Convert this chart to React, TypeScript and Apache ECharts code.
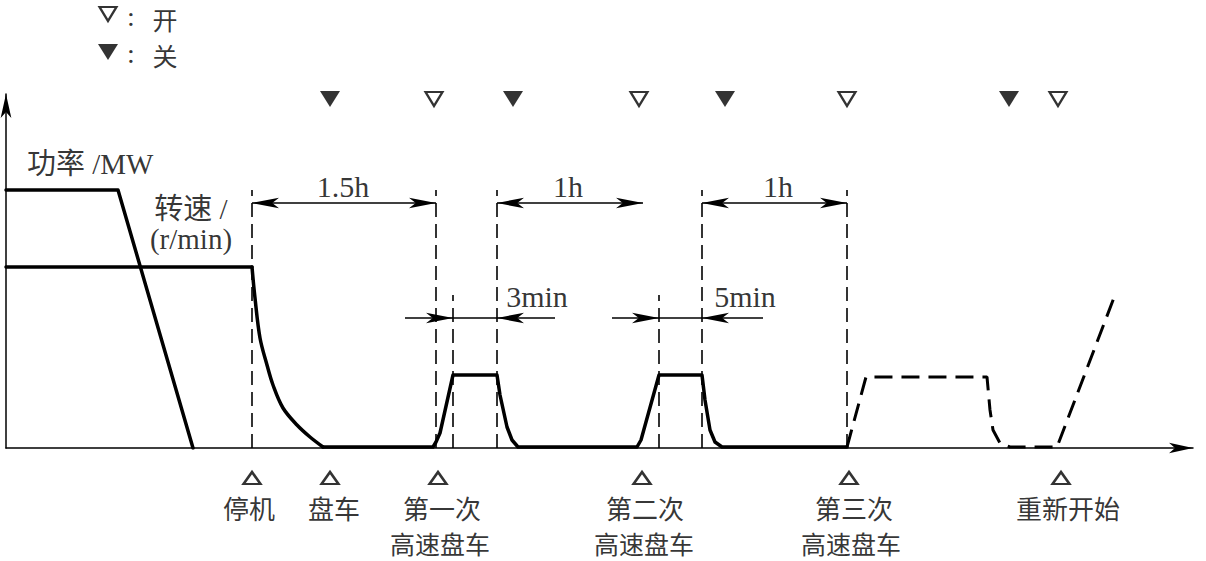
import React, { useEffect, useRef } from "react";
import * as echarts from "echarts";

// Data coordinates: x = time (arbitrary units), y = level (arbitrary units)
const powerCurve = [[0, 258], [112, 258], [187, 0]];
const speedHold = [[0, 181], [246, 181]];
const speedDecay = [
  [246, 181], [249, 150], [254, 110], [261, 83], [267, 63], [277, 40], [291, 23], [304, 11], [317, 1],
];
const speedTurning = [
  [317, 1], [427, 1], [430, 6], [434, 15], [447, 73], [491, 73], [494, 53], [501, 21], [506, 8], [512, 1],
  [631, 1], [635, 8], [653, 73], [696, 73], [699, 48], [704, 18], [709, 6], [716, 1], [841, 1],
];
const restartCurve = [
  [841, 1], [860, 71], [981, 71], [984, 38], [987, 18], [994, 5], [1004, 1], [1051, 1], [1109, 153],
];

const guideX = [246, 430, 447, 491, 653, 696, 841];
const guideTop = [258, 258, 153, 258, 153, 258, 258];

const spanStart = [246, 491, 696];
const spanEnd = [430, 637, 841];
const spanLevel = 245;
const spanLabels = ["1.5h", "1h", "1h"];
const spanLabelX = [337, 562, 772];
const spanLabelY = 262;

const shortFrom = [447, 653];
const shortTo = [491, 696];
const shortOuterLeft = [399, 606];
const shortOuterRight = [549, 757];
const shortLevel = 130;
const shortLabels = ["3min", "5min"];
const shortLabelX = [531, 739];
const shortLabelY = 152;

const closeX = [324, 507, 719, 1003];
const openX = [428, 633, 841, 1052];
const valveY = 349;

const eventX = [246, 324, 432, 636, 843, 1055];
const eventY = -30;
const eventLine1 = ["停机", "盘车", "第一次", "第二次", "第三次", "重新开始"];
const eventLine1X = [243, 328, 436, 639, 848, 1062];
const eventLine2 = ["", "", "高速盘车", "高速盘车", "高速盘车", ""];
const eventLine2X = [243, 328, 434, 638, 845, 1062];
const line1Y = -59;
const line2Y = -94.5;

const FONT_CJK = '"Noto Sans CJK SC", sans-serif';
const FONT_MIX = '"Liberation Serif", "Noto Sans CJK SC", serif';

function textSeries(points: any[], fontFamily: string, fontSize: number, align = "center") {
  return {
    type: "scatter",
    silent: true,
    clip: false,
    symbol: "circle",
    symbolSize: 1,
    itemStyle: { color: "rgba(0,0,0,0)" },
    z: 20,
    data: points.filter((p) => p[2]).map((p) => ({ value: [p[0], p[1]], name: p[2] })),
    label: {
      show: true,
      position: "inside",
      formatter: (d: any) => d.name,
      color: "#000",
      fontFamily,
      fontSize,
      align,
      verticalAlign: "middle",
      lineHeight: fontSize,
    },
  };
}

export default function App() {
  const ref = useRef<HTMLDivElement>(null);
  useEffect(() => {
    document.body.style.margin = "0";
    const chart = echarts.init(ref.current!, null, { renderer: "svg" });

    const guides = guideX.map((x, i) => ({
      type: "line",
      silent: true,
      symbol: "none",
      data: [[x, 0], [x, guideTop[i]]],
      lineStyle: { color: "#000", width: 1.6, type: [14, 7] },
      z: 3,
    }));

    const arrowLines: any[] = [];
    spanStart.forEach((s, i) => {
      arrowLines.push([
        { coord: [s, spanLevel], symbol: "arrow" },
        { coord: [spanEnd[i], spanLevel], symbol: "arrow" },
      ]);
    });
    shortFrom.forEach((s, i) => {
      arrowLines.push([
        { coord: [shortOuterLeft[i], shortLevel], symbol: "none" },
        { coord: [s, shortLevel], symbol: "arrow" },
      ]);
      arrowLines.push([
        { coord: [s, shortLevel], symbol: "none" },
        { coord: [shortTo[i], shortLevel], symbol: "none" },
      ]);
      arrowLines.push([
        { coord: [shortOuterRight[i], shortLevel], symbol: "none" },
        { coord: [shortTo[i], shortLevel], symbol: "arrow" },
      ]);
    });

    const axisCommon = {
      type: "value",
      axisLine: {
        show: true,
        onZero: false,
        symbol: ["none", "arrow"],
        symbolSize: [8, 24],
        lineStyle: { color: "#000", width: 1.5 },
      },
      axisTick: { show: false },
      axisLabel: { show: false },
      splitLine: { show: false },
    };

    const solid = { color: "#000", width: 3.5, join: "round", cap: "round" };

    chart.setOption({
      animation: false,
      grid: { left: 6, right: 13, top: 94, bottom: 113 },
      xAxis: { ...axisCommon, min: 0, max: 1187 },
      yAxis: { ...axisCommon, min: 0, max: 354 },
      series: [
        { type: "line", name: "功率", symbol: "none", data: powerCurve, lineStyle: solid, z: 5 },
        { type: "line", name: "转速", symbol: "none", data: speedHold, lineStyle: solid, z: 5 },
        { type: "line", name: "转速", symbol: "none", data: speedDecay, smooth: 0.35, lineStyle: solid, z: 5 },
        { type: "line", name: "转速", symbol: "none", data: speedTurning, lineStyle: solid, z: 5 },
        {
          type: "line",
          name: "重新开始",
          symbol: "none",
          data: restartCurve,
          lineStyle: { color: "#000", width: 3, type: [18, 9] },
          z: 5,
        },
        ...guides,
        {
          type: "line",
          silent: true,
          symbol: "none",
          data: [],
          lineStyle: { width: 0 },
          markLine: {
            silent: true,
            animation: false,
            symbolSize: [8, 27],
            lineStyle: { color: "#000", width: 1.6, type: "solid" },
            label: { show: false },
            data: arrowLines,
          },
        },
        {
          type: "scatter",
          silent: true,
          clip: false,
          symbol: "triangle",
          symbolRotate: 180,
          symbolSize: [20, 16],
          itemStyle: { color: "#000" },
          data: [...closeX.map((x) => [x, valveY]), [102, 396]],
        },
        {
          type: "scatter",
          silent: true,
          clip: false,
          symbol: "triangle",
          symbolRotate: 180,
          symbolSize: [17, 14],
          itemStyle: { color: "#fff", borderColor: "#000", borderWidth: 2.2 },
          data: [...openX.map((x) => [x, valveY]), [102, 434]],
        },
        {
          type: "scatter",
          silent: true,
          clip: false,
          symbol: "triangle",
          symbolSize: [17, 12],
          itemStyle: { color: "#fff", borderColor: "#000", borderWidth: 2.4 },
          data: eventX.map((x) => [x, eventY]),
        },
        textSeries(eventLine1.map((t, i) => [eventLine1X[i], line1Y, t]), FONT_CJK, 26),
        textSeries(eventLine2.map((t, i) => [eventLine2X[i], line2Y, t]), FONT_CJK, 25),
        textSeries(spanLabels.map((t, i) => [spanLabelX[i], spanLabelY, t]), FONT_MIX, 30),
        textSeries(shortLabels.map((t, i) => [shortLabelX[i], shortLabelY, t]), FONT_MIX, 30),
        textSeries([[159, 429.5, "开"], [159, 393, "关"]], FONT_CJK, 25),
        textSeries([[125, 432, ":"], [125, 395, ":"]], FONT_MIX, 28),
        textSeries([[21, 284, "功率 /MW"]], FONT_MIX, 29, "left"),
        textSeries([[185, 239, "转速 /"], [185, 209, "(r/min)"]], FONT_MIX, 29),
      ],
    });
    return () => chart.dispose();
  }, []);
  return <div ref={ref} style={{ width: 1206, height: 561 }} />;
}
